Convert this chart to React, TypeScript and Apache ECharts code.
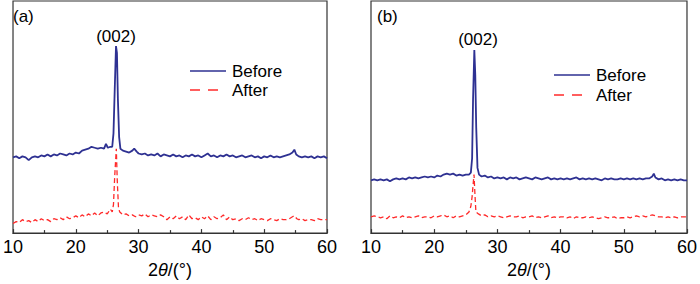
import React, { useEffect, useRef } from "react";
import * as echarts from "echarts";

// 2θ (deg) vs intensity (arbitrary units)
const aBefore: number[][] = [
  [10,79],[10.5,80],[11,78],[11.5,80],[12,79],[12.5,76],[13,79],[13.5,80],[14,79],[14.5,81],[15,80],[15.5,82],[16,80],[16.5,82],[17,81],[17.5,83],[18,82],[18.5,81],[19,83],[19.5,82],[20,84],[20.5,83],[21,86],[21.5,87],[22,88],[22.5,90],[23,89],[23.5,88],[24,89],[24.5,88],[24.8,93],[25.1,89],[25.5,90],[25.8,90],[26.0,104],[26.2,150],[26.4,195],[26.55,188],[26.7,140],[26.9,100],[27.1,88],[27.5,86],[28,85],[28.5,84],[29,86],[29.3,88],[29.7,85],[30,83],[30.5,82],[31,83],[31.5,81],[32,82],[32.5,81],[33,83],[33.5,80],[34,82],[34.5,81],[35,80],[35.5,82],[36,80],[36.5,81],[37,79],[37.5,81],[38,80],[38.5,82],[39,80],[39.5,81],[40,79],[40.5,81],[41,83],[41.5,80],[42,81],[42.5,79],[43,81],[43.5,80],[44,82],[44.5,80],[45,81],[45.5,79],[46,80],[46.5,81],[47,79],[47.5,80],[48,81],[48.5,79],[49,80],[49.5,78],[50,80],[50.5,79],[51,81],[51.5,79],[52,80],[52.5,79],[53,80],[53.5,81],[54,82],[54.5,84],[54.8,87],[55.1,82],[55.5,80],[56,79],[56.5,80],[57,79],[57.5,80],[58,78],[58.5,80],[59,79],[59.5,80],[60,78]
];

const aAfter: number[][] = [
  [10,10],[10.5,12],[11,11],[11.5,14],[12,12],[12.5,13],[13,11],[13.5,14],[14,12],[14.5,15],[15,13],[15.5,14],[16,12],[16.5,15],[17,14],[17.5,16],[18,14],[18.5,17],[19,15],[19.5,16],[20,18],[20.5,16],[21,19],[21.5,17],[22,20],[22.5,18],[23,21],[23.5,18],[24,21],[24.5,22],[25,20],[25.5,25],[25.8,22],[26.0,30],[26.2,60],[26.45,88],[26.6,55],[26.8,26],[27.0,22],[27.5,19],[28,20],[28.5,18],[29,19],[29.5,17],[30,19],[30.5,18],[31,20],[31.5,17],[32,19],[32.5,18],[33,17],[33.5,19],[34,17],[34.5,14],[35,17],[35.5,15],[36,18],[36.5,15],[37,17],[37.5,14],[38,19],[38.5,15],[39,16],[39.5,14],[40,17],[40.5,15],[41,18],[41.5,14],[42,17],[42.5,15],[43,16],[43.5,19],[44,14],[44.5,17],[45,14],[45.5,15],[46,13],[46.5,15],[47,14],[47.5,16],[48,14],[48.5,15],[49,13],[49.5,15],[50,14],[50.5,13],[51,15],[51.5,14],[52,13],[52.5,15],[53,14],[53.5,14],[54,15],[54.5,17],[54.8,18],[55.2,15],[55.5,14],[56,15],[56.5,13],[57,14],[57.5,14],[58,13],[58.5,15],[59,14],[59.5,14],[60,14]
];

const bBefore: number[][] = [
  [10,55],[10.5,56],[11,55],[11.5,56],[12,55],[12.5,56],[13,54],[13.5,56],[14,57],[14.5,56],[15,57],[15.5,56],[16,58],[16.5,57],[17,58],[17.5,57],[18,58],[18.5,59],[19,58],[19.5,59],[20,58],[20.5,60],[21,59],[21.5,61],[22,62],[22.5,61],[23,62],[23.5,60],[24,61],[24.5,60],[25,61],[25.5,61],[25.8,63],[26.0,78],[26.15,140],[26.35,191],[26.5,165],[26.65,110],[26.85,68],[27.1,61],[27.5,59],[28,60],[28.5,58],[29,59],[29.5,57],[30,58],[30.5,57],[31,58],[31.5,56],[32,58],[32.5,57],[33,58],[33.5,56],[34,57],[34.5,58],[35,57],[35.5,56],[36,58],[36.5,57],[37,56],[37.5,57],[38,58],[38.5,56],[39,57],[39.5,56],[40,57],[40.5,56],[41,57],[41.5,56],[42,57],[42.5,58],[43,56],[43.5,57],[44,56],[44.5,57],[45,56],[45.5,57],[46,56],[46.5,55],[47,57],[47.5,56],[48,57],[48.5,56],[49,56],[49.5,57],[50,56],[50.5,57],[51,56],[51.5,57],[52,56],[52.5,57],[53,56],[53.5,57],[54,57],[54.5,59],[54.75,62],[55,58],[55.5,56],[56,57],[56.5,55],[57,56],[57.5,55],[58,56],[58.5,55],[59,56],[59.5,55],[60,55]
];

const bAfter: number[][] = [
  [10,17],[10.5,18],[11,17],[11.5,16],[12,17],[12.5,15],[13,18],[13.5,16],[14,17],[14.5,16],[15,18],[15.5,16],[16,17],[16.5,16],[17,17],[17.5,18],[18,16],[18.5,17],[19,17],[19.5,16],[20,18],[20.5,17],[21,18],[21.5,19],[22,17],[22.5,18],[23,16],[23.5,18],[24,17],[24.5,18],[25,19],[25.5,22],[25.8,28],[26.0,38],[26.15,50],[26.3,61],[26.45,40],[26.6,22],[27,20],[27.5,18],[28,19],[28.5,17],[29,18],[29.5,17],[30,18],[30.5,17],[31,16],[31.5,17],[32,18],[32.5,17],[33,17],[33.5,18],[34,16],[34.5,17],[35,17],[35.5,18],[36,16],[36.5,17],[37,16],[37.5,17],[38,18],[38.5,16],[39,17],[39.5,16],[40,17],[40.5,17],[41,16],[41.5,17],[42,15],[42.5,17],[43,16],[43.5,16],[44,17],[44.5,16],[45,17],[45.5,16],[46,15],[46.5,16],[47,17],[47.5,16],[48,16],[48.5,17],[49,15],[49.5,16],[50,16],[50.5,17],[51,16],[51.5,17],[52,18],[52.5,17],[53,18],[53.5,17],[54,18],[54.5,19],[55,18],[55.5,17],[56,17],[56.5,16],[57,17],[57.5,16],[58,17],[58.5,16],[59,17],[59.5,17],[60,17]
];

const seriesNames = ["Before", "After"];
const panelLabels = ["(a)", "(b)"];
const peakLabel = "(002)";
const xMin = 10;
const xMax = 60;
const xInterval = 10;

const FONT = "'Liberation Sans', Arial, Helvetica, sans-serif";
const BLUE = "#2e3192";
const RED = "#ff2a2a";
const FRAME = "#333333";

export default function App() {
  const ref = useRef<HTMLDivElement>(null);
  useEffect(() => {
    if (!ref.current) return;
    const chart = echarts.init(ref.current, undefined, { renderer: "svg" });
    const grids = [
      { left: 8, top: 1, width: 319, height: 242 },
      { left: 371, top: 1, width: 319, height: 242 },
    ];
    const xAxes = grids.map((_, i) => ({
      type: "value",
      gridIndex: i,
      min: xMin,
      max: xMax,
      interval: xInterval,
      axisLine: { show: true, lineStyle: { color: FRAME, width: 1.2 } },
      axisTick: { show: true, inside: true, length: 4, lineStyle: { color: FRAME, width: 1.2 } },
      minorTick: { show: true, splitNumber: 2, length: 3, lineStyle: { color: FRAME, width: 1.2 } },
      splitLine: { show: false },
      axisLabel: { color: "#000", fontSize: 18, fontFamily: FONT, margin: 5 },
      name: "2{i|θ}/(°)",
      nameLocation: "middle",
      nameGap: 23,
      nameTextStyle: {
        color: "#000",
        fontSize: 18,
        fontFamily: FONT,
        rich: { i: { fontStyle: "italic", fontSize: 18, fontFamily: FONT, color: "#000" } },
      },
    }));
    const yAxes = grids.map((_, i) => ({
      type: "value",
      gridIndex: i,
      min: 0,
      max: 242,
      axisLine: { show: false },
      axisTick: { show: false },
      axisLabel: { show: false },
      splitLine: { show: false },
    }));
    const mk = (name: string, data: number[][], idx: number, dashed: boolean) => ({
      type: "line",
      name,
      xAxisIndex: idx,
      yAxisIndex: idx,
      data,
      symbol: "none",
      showSymbol: false,
      lineStyle: { color: dashed ? RED : BLUE, width: dashed ? 1.3 : 1.8, type: dashed ? [5, 3] : "solid" },
      itemStyle: { color: dashed ? RED : BLUE },
      z: dashed ? 2 : 3,
    });
    const txt = (x: number, y: number, text: string, align: string, size = 17) => ({
      type: "text",
      x,
      y,
      style: { text, fill: "#000", fontSize: size, fontFamily: FONT, align, verticalAlign: "middle" },
    });
    const legendItems = (x: number, y1: number, y2: number) => [
      { type: "line", shape: { x1: x, y1, x2: x + 36, y2: y1 }, style: { stroke: BLUE, lineWidth: 1.5 } },
      txt(x + 42, y1, seriesNames[0], "left"),
      { type: "line", shape: { x1: x, y1: y2, x2: x + 36, y2 }, style: { stroke: RED, lineWidth: 1.5, lineDash: [10, 8] } },
      txt(x + 42, y2, seriesNames[1], "left"),
    ];
    chart.setOption({
      animation: false,
      grid: grids.map((g) => ({ ...g, show: true, borderColor: FRAME, borderWidth: 1.2, backgroundColor: "transparent" })),
      xAxis: xAxes,
      yAxis: yAxes,
      series: [
        mk(seriesNames[0], aBefore, 0, false),
        mk(seriesNames[1], aAfter, 0, true),
        mk(seriesNames[0], bBefore, 1, false),
        mk(seriesNames[1], bAfter, 1, true),
      ],
      graphic: [
        txt(13, 16, panelLabels[0], "left"),
        txt(377, 16, panelLabels[1], "left"),
        txt(116, 36, peakLabel, "center"),
        txt(478, 39, peakLabel, "center"),
        ...legendItems(190, 71, 90),
        ...legendItems(554, 75, 95),
      ],
    });
    return () => chart.dispose();
  }, []);
  return (
    <div
      ref={ref}
      style={{ position: "fixed", left: 0, top: 0, width: 700, height: 284, background: "#fff" }}
    />
  );
}
